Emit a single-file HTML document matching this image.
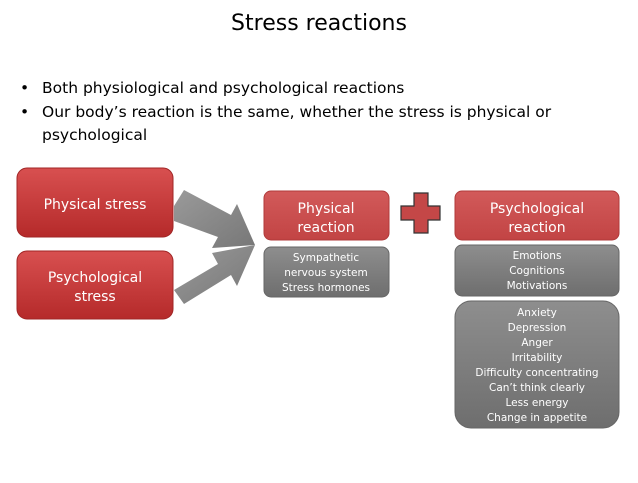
<!DOCTYPE html>
<html><head><meta charset="utf-8"><style>
html,body{margin:0;padding:0;background:#fff;}
body{width:638px;height:479px;overflow:hidden;font-family:"DejaVu Sans","Liberation Sans",sans-serif;}
</style></head><body>
<svg width="638" height="479" viewBox="0 0 638 479" xmlns="http://www.w3.org/2000/svg">
<defs>
<linearGradient id="red" x1="0" y1="0" x2="0" y2="1">
<stop offset="0" stop-color="#d85050"/><stop offset="1" stop-color="#b52a2a"/></linearGradient>
<linearGradient id="red2" x1="0" y1="0" x2="0" y2="1">
<stop offset="0" stop-color="#d25a5a"/><stop offset="1" stop-color="#c24444"/></linearGradient>
<linearGradient id="gray" x1="0" y1="0" x2="0" y2="1">
<stop offset="0" stop-color="#8e8e8e"/><stop offset="1" stop-color="#6e6e6e"/></linearGradient>
<linearGradient id="arr" x1="0" y1="0" x2="1" y2="1">
<stop offset="0" stop-color="#9a9a9a"/><stop offset="1" stop-color="#777"/></linearGradient>
</defs>
<text x="319" y="30" text-anchor="middle" font-size="22" fill="#000">Stress reactions</text>
<g font-size="15.5" fill="#000">
<text x="20" y="93">•</text><text x="42" y="93">Both physiological and psychological reactions</text>
<text x="20" y="117">•</text><text x="42" y="117">Our body’s reaction is the same, whether the stress is physical or</text>
<text x="42" y="140">psychological</text>
</g>
<polygon points="174,206 184,190 231,215 237,204 255,245 212,248 218,237 174,221" fill="url(#arr)"/>
<polygon points="174,290 218,264 212,253 255,245 237,286 231,275 184,304" fill="url(#arr)"/>
<rect x="17" y="168" width="156" height="69" rx="10" fill="url(#red)" stroke="#a02525"/>
<rect x="17" y="251" width="156" height="68" rx="10" fill="url(#red)" stroke="#a02525"/>
<g fill="#fff" font-size="14" text-anchor="middle">
<text x="95" y="209">Physical stress</text>
<text x="95" y="282">Psychological</text>
<text x="95" y="301">stress</text>
</g>
<rect x="264" y="191" width="125" height="49" rx="7" fill="url(#red2)" stroke="#b03a3a"/>
<rect x="264" y="247" width="125" height="50" rx="7" fill="url(#gray)" stroke="#666"/>
<polygon points="414,193 428,193 428,206 440,206 440,220 428,220 428,233 414,233 414,220 401,220 401,206 414,206" fill="#c44747" stroke="#333" stroke-width="1.2"/>
<rect x="455" y="191" width="164" height="49" rx="7" fill="url(#red2)" stroke="#b03a3a"/>
<rect x="455" y="245" width="164" height="51" rx="7" fill="url(#gray)" stroke="#666"/>
<rect x="455" y="301" width="164" height="127" rx="16" fill="url(#gray)" stroke="#666"/>
<g fill="#fff" font-size="14" text-anchor="middle">
<text x="326" y="213">Physical</text><text x="326" y="232">reaction</text>
<text x="537" y="213">Psychological</text><text x="537" y="232">reaction</text>
</g>
<g fill="#fff" font-size="10.5" text-anchor="middle">
<text x="326" y="261">Sympathetic</text>
<text x="326" y="276">nervous system</text>
<text x="326" y="291">Stress hormones</text>
<text x="537" y="259">Emotions</text>
<text x="537" y="274">Cognitions</text>
<text x="537" y="289">Motivations</text>
<text x="537" y="316">Anxiety</text>
<text x="537" y="331">Depression</text>
<text x="537" y="346">Anger</text>
<text x="537" y="361">Irritability</text>
<text x="537" y="376">Difficulty concentrating</text>
<text x="537" y="391">Can’t think clearly</text>
<text x="537" y="406">Less energy</text>
<text x="537" y="421">Change in appetite</text>
</g>
</svg>
</body></html>
